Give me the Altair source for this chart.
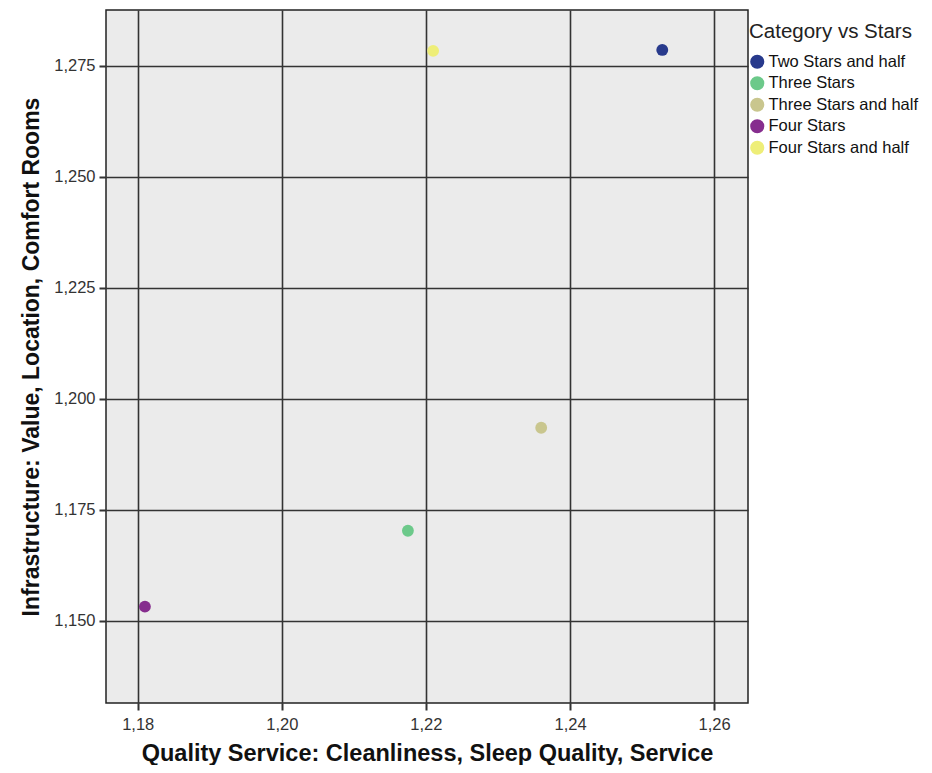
import altair as alt
import pandas as pd

categories = ["Two Stars and half", "Three Stars", "Three Stars and half", "Four Stars", "Four Stars and half"]
quality_service = [1.2528, 1.2175, 1.2360, 1.1810, 1.2210]
infrastructure = [1.2786, 1.1703, 1.1935, 1.1532, 1.2784]
colors = ["#283a8c", "#6cc98a", "#c9c68e", "#862d8e", "#eeee78"]
x_ticks = [1.18, 1.20, 1.22, 1.24, 1.26]
y_ticks = [1.150, 1.175, 1.200, 1.225, 1.250, 1.275]

df = pd.DataFrame({
    "Category vs Stars": categories,
    "qs": quality_service,
    "inf": infrastructure,
})

chart = alt.Chart(df).mark_circle(size=140, opacity=1).encode(
    x=alt.X("qs:Q",
            scale=alt.Scale(domain=[1.1756, 1.2647], nice=False, zero=False),
            axis=alt.Axis(values=x_ticks, format=".2f",
                          labelExpr="replace(datum.label, '.', ',')",
                          title="Quality Service: Cleanliness, Sleep Quality, Service",
                          titleFontSize=23.5, titleFontWeight="bold", titleColor="#111",
                          titleFont="Liberation Sans", titlePadding=9,
                          labelFont="Liberation Sans", labelFontSize=16.5, labelColor="#333",
                          labelPadding=6,
                          tickSize=7, tickColor="#333", tickWidth=2,
                          domain=False,
                          gridColor="#333", gridWidth=1.6)),
    y=alt.Y("inf:Q",
            scale=alt.Scale(domain=[1.1315, 1.2876], nice=False, zero=False),
            axis=alt.Axis(values=y_ticks, format=".3f",
                          labelExpr="replace(datum.label, '.', ',')",
                          title="Infrastructure: Value, Location, Comfort Rooms",
                          titleFontSize=23, titleFontWeight="bold", titleColor="#111",
                          titleFont="Liberation Sans", titlePadding=10,
                          labelFont="Liberation Sans", labelFontSize=16.5, labelColor="#333",
                          labelPadding=4,
                          tickSize=7, tickColor="#333", tickWidth=2,
                          domain=False,
                          gridColor="#333", gridWidth=1.6)),
    color=alt.Color("Category vs Stars:N",
                    scale=alt.Scale(domain=categories, range=colors),
                    legend=alt.Legend(orient="none", legendX=643, legendY=12,
                                      title="Category vs Stars",
                                      titleFont="Liberation Sans", titleFontSize=20.5,
                                      titleFontWeight="normal", titleColor="#222",
                                      titlePadding=11,
                                      labelFont="Liberation Sans", labelFontSize=16.5,
                                      labelColor="#111",
                                      symbolSize=200, symbolType="circle",
                                      symbolStrokeWidth=0, symbolOpacity=1,
                                      rowPadding=4.5, labelOffset=3)),
).properties(
    width=642, height=693,
    autosize=alt.AutoSizeParams(type="none"),
    padding={"left": 98, "top": 2, "right": 176, "bottom": 62},
).configure(
    background="white"
).configure_view(
    fill="#ebebeb", stroke="#222", strokeWidth=1.5
)

chart.save("out.html", embed_options={"renderer": "svg", "actions": False})
